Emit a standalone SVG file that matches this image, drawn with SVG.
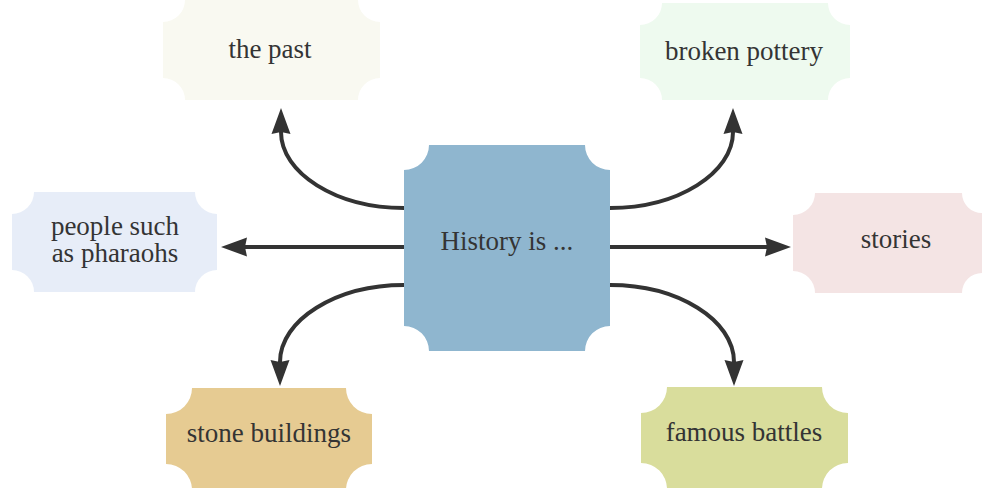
<svg xmlns="http://www.w3.org/2000/svg" width="994" height="488" viewBox="0 0 994 488">
<style>
  text { font-family: "Liberation Serif", "Times New Roman", serif; font-size: 27px; fill: #343434; text-anchor: middle; }
  .conn { fill: none; stroke: #333333; stroke-width: 4; marker-end: url(#arrow); }
</style>
<defs>
  <marker id="arrow" viewBox="0 -10 27 20" refX="2" refY="0" markerWidth="27" markerHeight="20" markerUnits="userSpaceOnUse" orient="auto">
    <path d="M0,-9.5 L26,0 L0,9.5 L2,0 Z" fill="#333333"/>
  </marker>
</defs>
<rect width="994" height="488" fill="#ffffff"/>

<g id="connectors">
  <path class="conn" d="M404,208 C336,208 281,173 281,132"/>
  <path class="conn" d="M610,208 C678,208 733,173 733,132"/>
  <path class="conn" d="M404,247 H245"/>
  <path class="conn" d="M610,247 H767"/>
  <path class="conn" d="M404,285 C336,285 280,320 280,362"/>
  <path class="conn" d="M610,285 C678,285 734,320 734,362"/>
</g>

<g id="center">
  <path d="M429,145 H585 A25,25 0 0 0 610,170 V326 A25,25 0 0 0 585,351 H429 A25,25 0 0 0 404,326 V170 A25,25 0 0 0 429,145 Z" fill="#8fb6cf"/>
  <text x="507" y="250" fill="#2c3a44">History is ...</text>
</g>

<g id="the-past">
  <path d="M185,0 H358 A22,22 0 0 0 380,22 V78 A22,22 0 0 0 358,100 H185 A22,22 0 0 0 163,78 V22 A22,22 0 0 0 185,0 Z" fill="#f9f9f1"/>
  <text x="270" y="58">the past</text>
</g>

<g id="broken-pottery">
  <path d="M662,3 H828 A22,22 0 0 0 850,25 V78 A22,22 0 0 0 828,100 H662 A22,22 0 0 0 640,78 V25 A22,22 0 0 0 662,3 Z" fill="#eefaef"/>
  <text x="744" y="60">broken pottery</text>
</g>

<g id="people">
  <path d="M34,192 H195 A22,22 0 0 0 217,214 V270 A22,22 0 0 0 195,292 H34 A22,22 0 0 0 12,270 V214 A22,22 0 0 0 34,192 Z" fill="#e7edf8"/>
  <text x="115" y="235">people such</text>
  <text x="115" y="262">as pharaohs</text>
</g>

<g id="stories">
  <path d="M815,193 H962 A20,20 0 0 0 982,213 V273 A20,20 0 0 0 962,293 H815 A22,22 0 0 0 793,271 V215 A22,22 0 0 0 815,193 Z" fill="#f4e4e4"/>
  <text x="896" y="248">stories</text>
</g>

<g id="stone-buildings">
  <path d="M192,388 H346 A26,26 0 0 0 372,414 V464 A26,26 0 0 0 346,490 H192 A26,26 0 0 0 166,464 V414 A26,26 0 0 0 192,388 Z" fill="#e6cb92"/>
  <text x="269" y="442" fill="#3e3524">stone buildings</text>
</g>

<g id="famous-battles">
  <path d="M667,387 H822 A26,26 0 0 0 848,413 V463 A26,26 0 0 0 822,489 H667 A26,26 0 0 0 641,463 V413 A26,26 0 0 0 667,387 Z" fill="#d9dd9c"/>
  <text x="744" y="441" fill="#2f3420">famous battles</text>
</g>
</svg>
